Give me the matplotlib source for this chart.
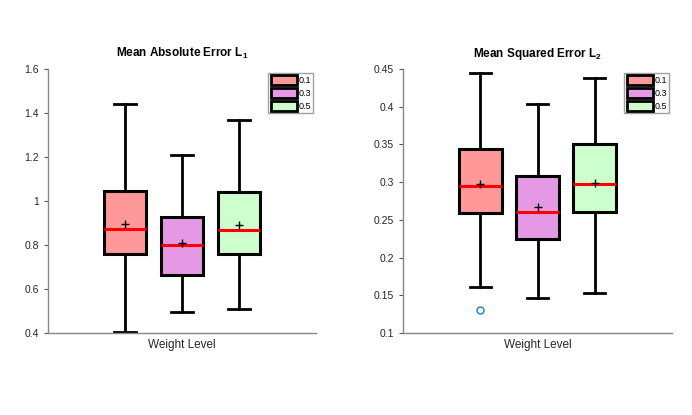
import matplotlib
matplotlib.use("Agg")
import matplotlib.pyplot as plt
from matplotlib.patches import Patch

plt.rcParams['font.family'] = ['Liberation Sans Narrow', 'Liberation Sans', 'DejaVu Sans']
plt.rcParams['mathtext.default'] = 'regular'

# weight levels and box colours
levels = ['0.1', '0.3', '0.5']
colores = ['#ff9999', '#e599e5', '#ccffcc']

# L1 stats
l1_whislo = [0.405, 0.497, 0.507]
l1_q1 = [0.758, 0.662, 0.757]
l1_med = [0.872, 0.800, 0.866]
l1_mean = [0.895, 0.810, 0.892]
l1_q3 = [1.045, 0.925, 1.040]
l1_whishi = [1.440, 1.210, 1.368]
l1_fliers = [[], [], []]

# L2 stats
l2_whislo = [0.161, 0.146, 0.153]
l2_q1 = [0.259, 0.225, 0.261]
l2_med = [0.2955, 0.260, 0.297]
l2_mean = [0.2975, 0.2675, 0.2995]
l2_q3 = [0.344, 0.308, 0.350]
l2_whishi = [0.445, 0.404, 0.438]
l2_fliers = [[0.131], [], []]


def armar_stats(lo, q1, med, mean, q3, hi, fl):
    stats = []
    for i in range(len(lo)):
        stats.append(dict(whislo=lo[i], q1=q1[i], med=med[i], mean=mean[i],
                          q3=q3[i], whishi=hi[i], fliers=fl[i]))
    return stats


def dibujar(ax, stats, titulo, ylim, yticks, yticklabels):
    bp = ax.bxp(stats, positions=[1, 2, 3], widths=0.75, patch_artist=True,
                showmeans=True,
                boxprops=dict(edgecolor='black', linewidth=2.2),
                whiskerprops=dict(color='black', linewidth=2),
                capprops=dict(color='black', linewidth=2),
                medianprops=dict(color='red', linewidth=2.2),
                meanprops=dict(marker='+', markeredgecolor='black', markersize=6),
                flierprops=dict(marker='o', markerfacecolor='none',
                                markeredgecolor='#1f77d4', markersize=5))
    for caja, c in zip(bp['boxes'], colores):
        caja.set_facecolor(c)
    ax.set_xlim(2 - 2.35, 2 + 2.35)
    ax.set_ylim(*ylim)
    ax.set_yticks(yticks)
    ax.set_yticklabels(yticklabels)
    ax.set_xticks([])
    ax.set_xlabel('Weight Level', fontsize=8.5, color='#262626', labelpad=4)
    ax.set_title(titulo, fontsize=8.5, fontweight='bold', pad=9)
    for lado in ['top', 'right']:
        ax.spines[lado].set_visible(False)
    for lado in ['left', 'bottom']:
        ax.spines[lado].set_color('#888888')
        ax.spines[lado].set_linewidth(1)
    ax.tick_params(axis='y', labelsize=7.5, colors='#555555', length=3, direction='out')
    ax.tick_params(axis='y', labelcolor='#262626')
    manijas = [Patch(facecolor=c, edgecolor='black', linewidth=2) for c in colores]
    leg = ax.legend(manijas, levels, loc='upper right', bbox_to_anchor=(0.99, 0.985),
                    fontsize=6.5, frameon=True, fancybox=False, handlelength=2.9,
                    handleheight=1.35, handletextpad=0.2, labelspacing=0.3,
                    borderpad=0.25, borderaxespad=0)
    leg.get_frame().set_edgecolor('#888888')
    leg.get_frame().set_linewidth(1)


fig = plt.figure(figsize=(6.92, 4.15), dpi=100)
ax1 = fig.add_axes([48 / 692, 1 - 333 / 415, 268 / 692, 264 / 415])
ax2 = fig.add_axes([403 / 692, 1 - 333 / 415, 269 / 692, 264 / 415])

dibujar(ax1, armar_stats(l1_whislo, l1_q1, l1_med, l1_mean, l1_q3, l1_whishi, l1_fliers),
        r'Mean Absolute Error L$_1$', (0.4, 1.6),
        [0.4, 0.6, 0.8, 1.0, 1.2, 1.4, 1.6], ['0.4', '0.6', '0.8', '1', '1.2', '1.4', '1.6'])
dibujar(ax2, armar_stats(l2_whislo, l2_q1, l2_med, l2_mean, l2_q3, l2_whishi, l2_fliers),
        r'Mean Squared Error L$_2$', (0.1, 0.45),
        [0.1, 0.15, 0.2, 0.25, 0.3, 0.35, 0.4, 0.45],
        ['0.1', '0.15', '0.2', '0.25', '0.3', '0.35', '0.4', '0.45'])

fig.savefig('out.png', dpi=100)
